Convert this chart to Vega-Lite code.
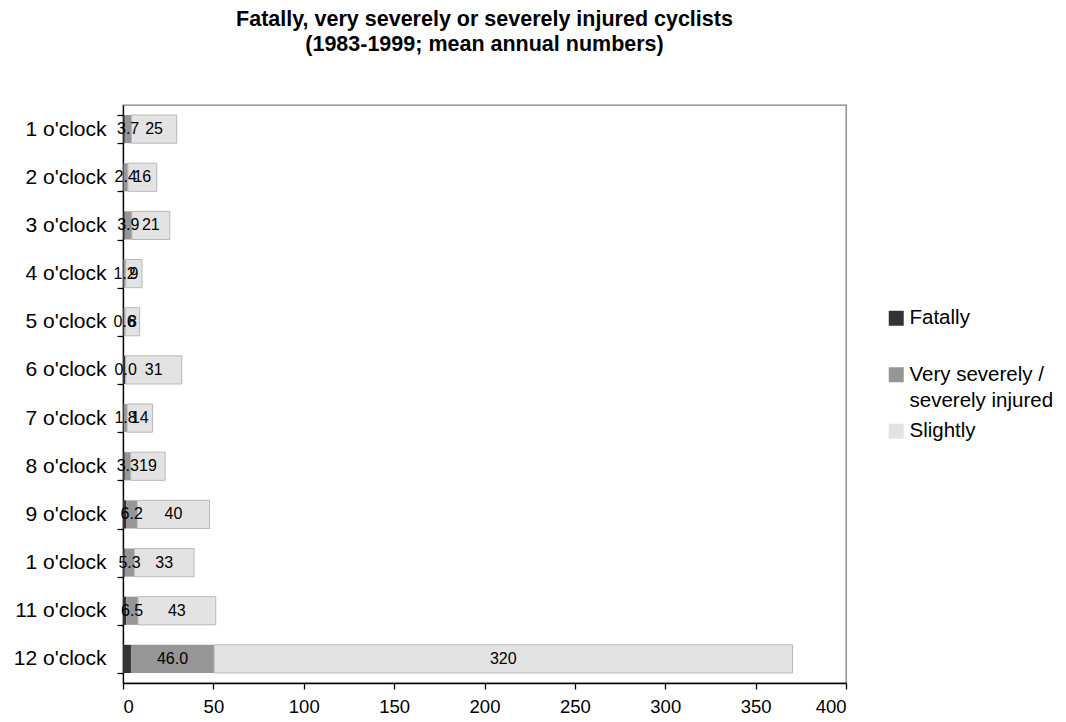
{
  "$schema": "https://vega.github.io/schema/vega-lite/v6.json",
  "width": 723,
  "height": 578,
  "autosize": {"type": "none"},
  "padding": {"left": 123, "top": 105, "right": 220, "bottom": 39},
  "background": "white",
  "title": {
    "text": ["Fatally, very severely or severely injured cyclists", "(1983-1999; mean annual numbers)"],
    "font": "Liberation Sans",
    "fontSize": 21.5,
    "fontWeight": "bold",
    "color": "#000000",
    "anchor": "middle",
    "frame": "group",
    "offset": 39,
    "lineHeight": 25
  },
  "config": {
    "view": {"stroke": "#808080", "strokeWidth": 1.3},
    "font": "Liberation Sans",
    "style": {"guide-label": {"lineHeight": 26}}
  },
  "data": {
    "values": [
      {"hour": 1, "category": "Fatally", "rank": 1, "value": 1.0},
      {"hour": 1, "category": "Very severely / severely injured", "rank": 2, "value": 3.7},
      {"hour": 1, "category": "Slightly", "rank": 3, "value": 25},
      {"hour": 2, "category": "Fatally", "rank": 1, "value": 0.3},
      {"hour": 2, "category": "Very severely / severely injured", "rank": 2, "value": 2.4},
      {"hour": 2, "category": "Slightly", "rank": 3, "value": 16},
      {"hour": 3, "category": "Fatally", "rank": 1, "value": 1.0},
      {"hour": 3, "category": "Very severely / severely injured", "rank": 2, "value": 3.9},
      {"hour": 3, "category": "Slightly", "rank": 3, "value": 21},
      {"hour": 4, "category": "Fatally", "rank": 1, "value": 0.3},
      {"hour": 4, "category": "Very severely / severely injured", "rank": 2, "value": 1.2},
      {"hour": 4, "category": "Slightly", "rank": 3, "value": 9},
      {"hour": 5, "category": "Fatally", "rank": 1, "value": 0.6},
      {"hour": 5, "category": "Very severely / severely injured", "rank": 2, "value": 0.6},
      {"hour": 5, "category": "Slightly", "rank": 3, "value": 8},
      {"hour": 6, "category": "Fatally", "rank": 1, "value": 1.5},
      {"hour": 6, "category": "Very severely / severely injured", "rank": 2, "value": 0.0},
      {"hour": 6, "category": "Slightly", "rank": 3, "value": 31},
      {"hour": 7, "category": "Fatally", "rank": 1, "value": 0.5},
      {"hour": 7, "category": "Very severely / severely injured", "rank": 2, "value": 1.8},
      {"hour": 7, "category": "Slightly", "rank": 3, "value": 14},
      {"hour": 8, "category": "Fatally", "rank": 1, "value": 1.0},
      {"hour": 8, "category": "Very severely / severely injured", "rank": 2, "value": 3.3},
      {"hour": 8, "category": "Slightly", "rank": 3, "value": 19},
      {"hour": 9, "category": "Fatally", "rank": 1, "value": 1.7},
      {"hour": 9, "category": "Very severely / severely injured", "rank": 2, "value": 6.2},
      {"hour": 9, "category": "Slightly", "rank": 3, "value": 40},
      {"hour": 10, "category": "Fatally", "rank": 1, "value": 1.0},
      {"hour": 10, "category": "Very severely / severely injured", "rank": 2, "value": 5.3},
      {"hour": 10, "category": "Slightly", "rank": 3, "value": 33},
      {"hour": 11, "category": "Fatally", "rank": 1, "value": 1.8},
      {"hour": 11, "category": "Very severely / severely injured", "rank": 2, "value": 6.5},
      {"hour": 11, "category": "Slightly", "rank": 3, "value": 43},
      {"hour": 12, "category": "Fatally", "rank": 1, "value": 4.4},
      {"hour": 12, "category": "Very severely / severely injured", "rank": 2, "value": 46.0},
      {"hour": 12, "category": "Slightly", "rank": 3, "value": 320}
    ]
  },
  "encoding": {
    "y": {
      "field": "hour",
      "type": "ordinal",
      "sort": "ascending",
      "scale": {"paddingInner": 0.415, "paddingOuter": 0.2075},
      "axis": {
        "title": null,
        "labelExpr": "datum.value == null ? '' : (datum.value == 10 ? \"1 o'clock\" : datum.value + \" o'clock\")",
        "labelFont": "Liberation Sans",
        "labelFontSize": 21,
        "labelColor": "#000000",
        "labelPadding": 11,
        "tickBand": "extent",
        "tickSize": 6,
        "tickColor": "#000000",
        "tickWidth": 1.3,
        "domainColor": "#000000",
        "domainWidth": 1.3,
        "grid": false
      }
    }
  },
  "layer": [
    {
      "mark": {"type": "bar", "strokeWidth": 1},
      "encoding": {
        "x": {
          "field": "value",
          "type": "quantitative",
          "stack": "zero",
          "scale": {"domain": [0, 400], "nice": false},
          "axis": {
            "title": null,
            "values": [0, 50, 100, 150, 200, 250, 300, 350, 400],
            "labelFont": "Liberation Sans",
            "labelFontSize": 18.5,
            "labelColor": "#000000",
            "labelPadding": 8,
            "tickSize": 6,
            "tickColor": "#000000",
            "tickWidth": 1.3,
            "domainColor": "#000000",
            "domainWidth": 1.3,
            "grid": false
          }
        },
        "order": {"field": "rank", "type": "quantitative"},
        "color": {
          "field": "category",
          "type": "nominal",
          "scale": {
            "domain": ["Fatally", "Very severely / severely injured", "Slightly"],
            "range": ["#333333", "#969696", "#e3e3e3"]
          },
          "legend": {
            "title": null,
            "orient": "none",
            "legendX": 763,
            "legendY": 203,
            "padding": 0,
            "symbolType": "square",
            "symbolSize": 225,
            "symbolStrokeWidth": 0,
            "labelFont": "Liberation Sans",
            "labelFontSize": 20.5,
            "labelColor": "#000000",
            "labelOffset": 3,
            "labelLimit": 200,
            "labelBaseline": "middle",
            "rowPadding": 9.5,
            "labelExpr": "datum.label === 'Very severely / severely injured' ? ['Very severely /', 'severely injured'] : [datum.label, '']",
            "encode": {
              "labels": {"update": {"lineHeight": {"value": 26}}},
              "symbols": {
                "update": {
                  "stroke": {"signal": "datum.value === 'Slightly' ? '#b8b8b8' : 'transparent'"},
                  "strokeWidth": {"value": 1}
                }
              }
            }
          }
        },
        "stroke": {
          "condition": {"test": "datum.category === 'Slightly'", "value": "#b8b8b8"},
          "value": "transparent"
        }
      }
    },
    {
      "transform": [
        {"stack": "value", "groupby": ["hour"], "sort": [{"field": "rank"}], "as": ["x0", "x1"]},
        {"calculate": "(datum.x0 + datum.x1) / 2", "as": "xm"},
        {"filter": "datum.category === 'Very severely / severely injured'"}
      ],
      "mark": {"type": "text", "font": "Liberation Sans", "fontSize": 16, "color": "#000000", "baseline": "middle"},
      "encoding": {
        "x": {"field": "xm", "type": "quantitative", "scale": {"domain": [0, 400], "nice": false}, "title": null},
        "text": {"field": "value", "type": "quantitative", "format": ".1f"}
      }
    },
    {
      "transform": [
        {"stack": "value", "groupby": ["hour"], "sort": [{"field": "rank"}], "as": ["x0", "x1"]},
        {"calculate": "(datum.x0 + datum.x1) / 2", "as": "xm"},
        {"filter": "datum.category === 'Slightly'"}
      ],
      "mark": {"type": "text", "font": "Liberation Sans", "fontSize": 16, "color": "#000000", "baseline": "middle"},
      "encoding": {
        "x": {"field": "xm", "type": "quantitative", "scale": {"domain": [0, 400], "nice": false}, "title": null},
        "text": {"field": "value", "type": "quantitative", "format": "d"}
      }
    }
  ]
}
